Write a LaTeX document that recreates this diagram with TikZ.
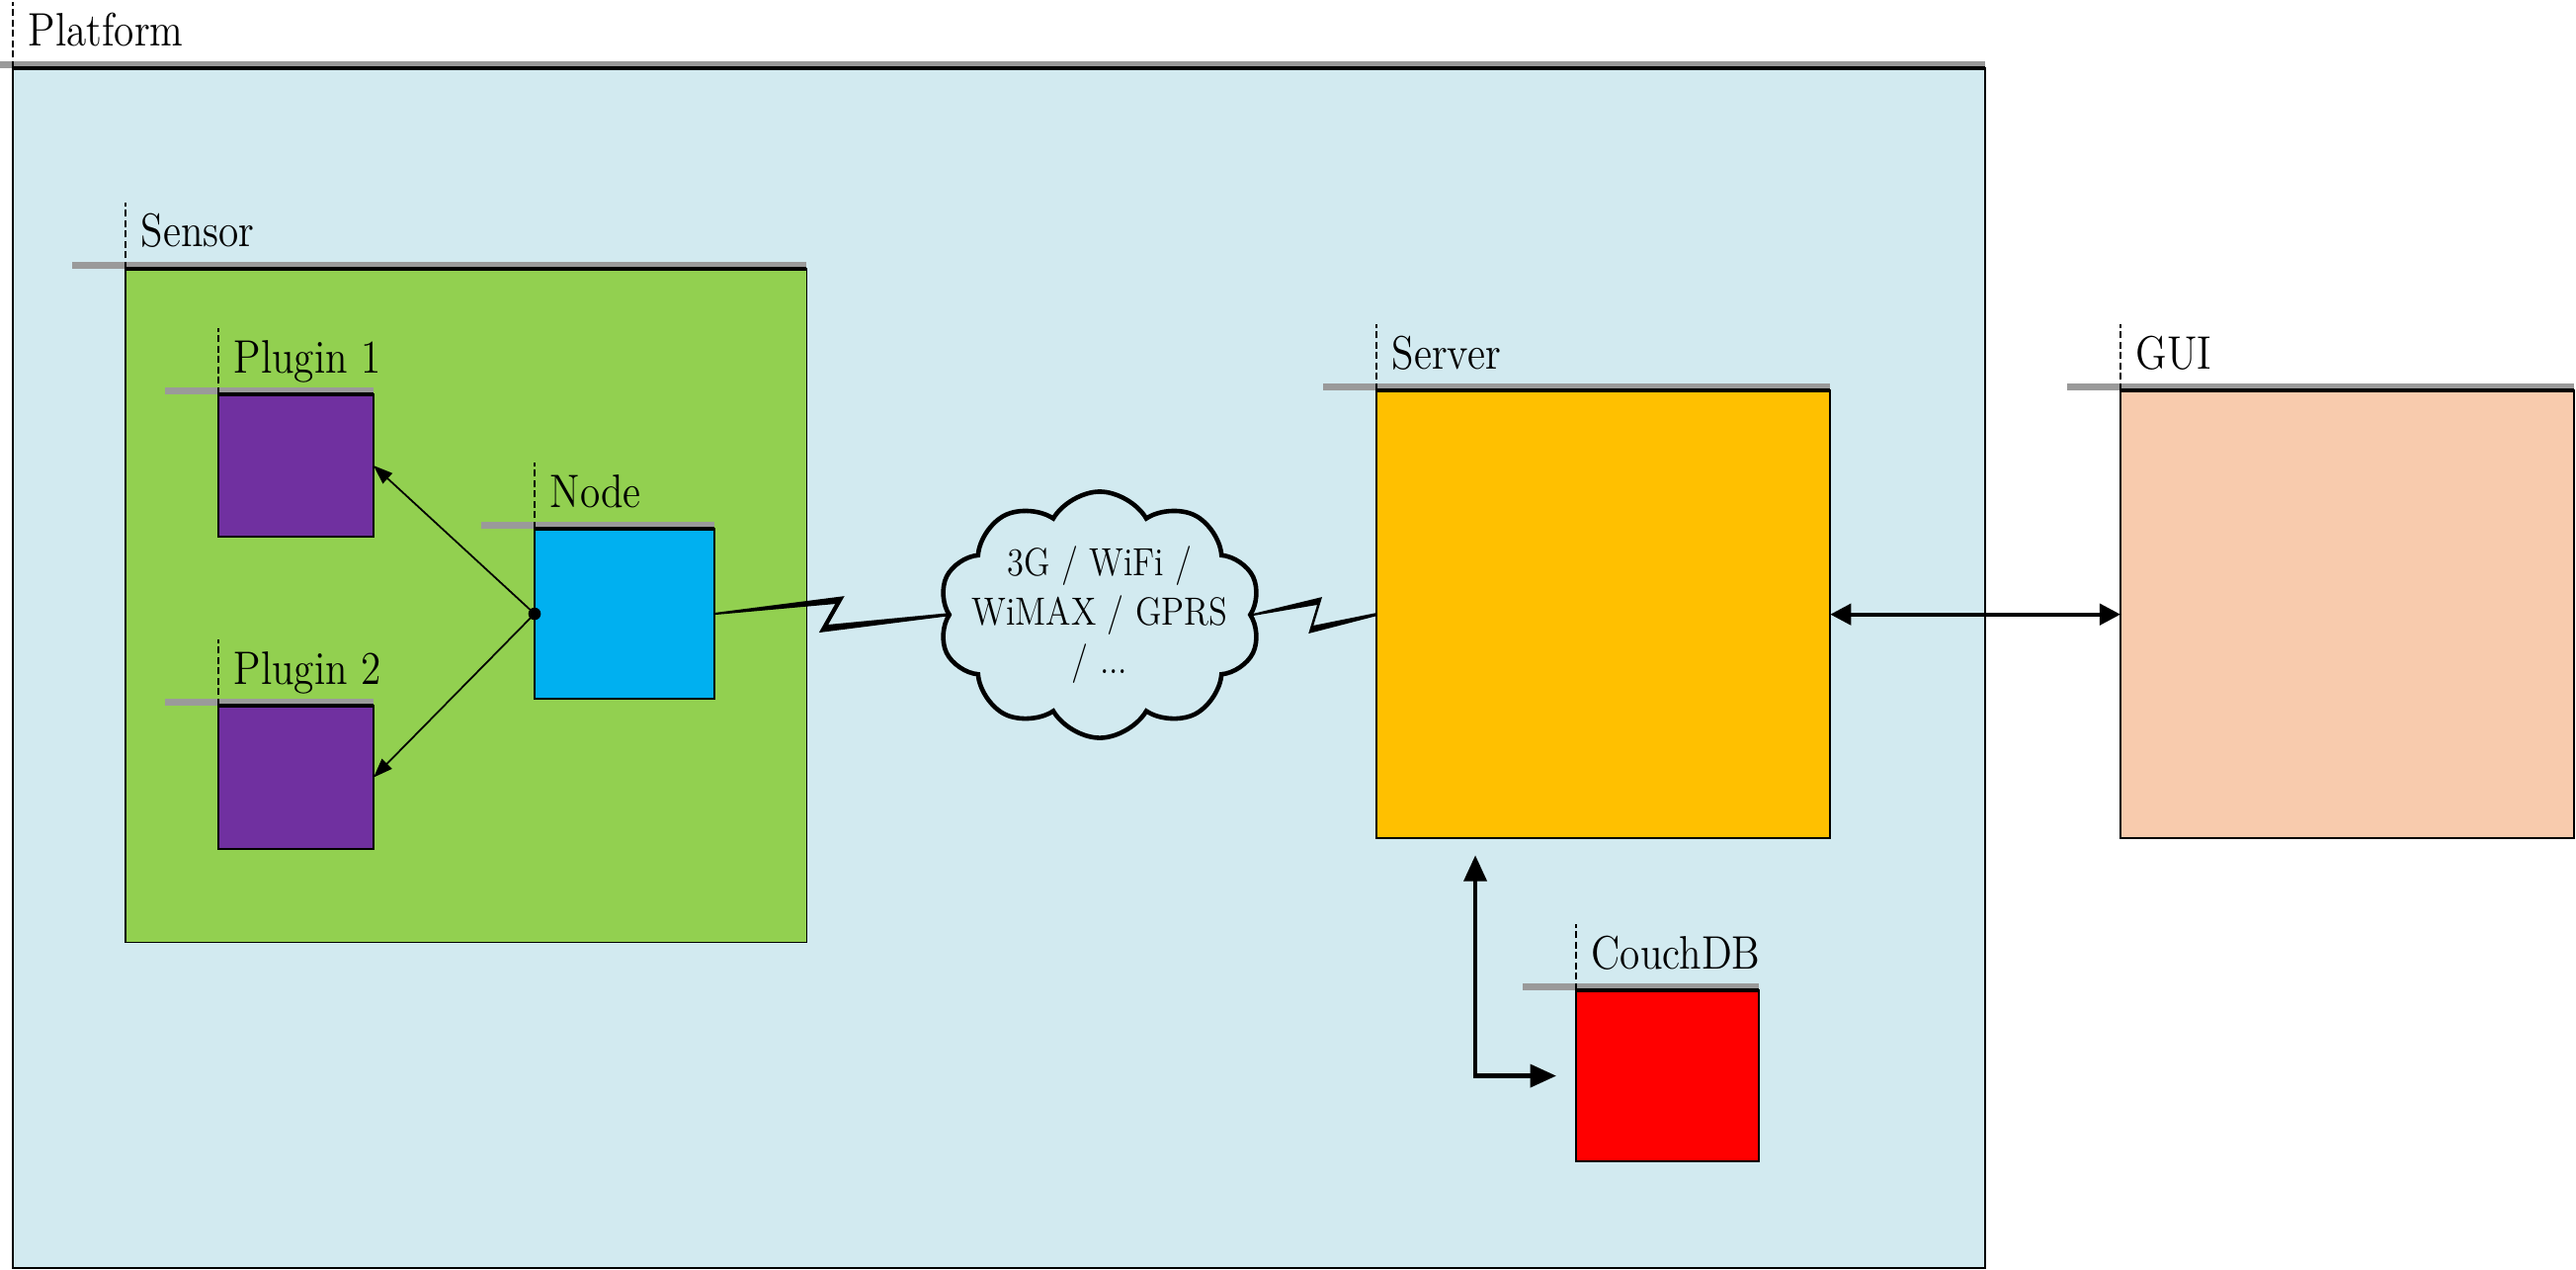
\documentclass[tikz,border=0pt]{standalone}
\usepackage{graphicx}
\usetikzlibrary{shapes.symbols,arrows.meta,calc}
\definecolor{platc}{HTML}{D2EAF0}
\definecolor{sensc}{HTML}{92D050}
\definecolor{plugc}{HTML}{7030A0}
\definecolor{nodec}{HTML}{00B0F0}
\definecolor{srvc}{HTML}{FFC000}
\definecolor{guic}{HTML}{F8CBAD}
\definecolor{dbc}{HTML}{FF0000}
\definecolor{barc}{HTML}{9A9A9A}
\newcommand\sqz[1]{\scalebox{0.87}[1]{#1}}
\newcommand\umldeco[2]{%
  \fill[barc] ([xshift=-0.54cm]#1.north west) rectangle ([yshift=0.075cm]#1.north east);
  \draw[line width=0.9pt] (#1.north west) -- (#1.north east);
  \draw[dashline] (#1.north west) -- ([yshift=0.67cm]#1.north west);
  \node[lbl] (#1-lbl) at ([xshift=0.15cm,yshift=0.22cm]#1.north west) {\sqz{#2}};
}
\newcommand\bolt[2]{%
  \fill let \p1=(#1), \p2=(#2), \n1={\x2-\x1} in
    ({\x1},{\y1+0.3pt}) -- ({\x1+0.56*\n1},{\y1+5.1pt}) -- ({\x1+0.49*\n1},{\y1-3.1pt})
    -- ({\x2},{\y2+0.45pt}) -- ({\x2},{\y2-0.45pt}) -- ({\x1+0.45*\n1},{\y1-5.4pt})
    -- ({\x1+0.52*\n1},{\y1+2.85pt}) -- ({\x1},{\y1-0.3pt}) -- cycle;
}
\tikzset{
  box/.style={draw=black, line width=0.5pt, inner sep=0pt, outer sep=0pt, anchor=north west},
  lbl/.style={inner sep=0pt, anchor=base west, font=\fontsize{13.5}{16}\selectfont},
  dashline/.style={line width=0.5pt, dash pattern=on 2pt off 1pt},
  cloudtxt/.style={inner sep=0pt, font=\fontsize{11.3}{14.2}\selectfont},
  thinarrow/.style={line width=0.5pt, -{Triangle[length=5.5pt,width=4pt]}},
  guiarrow/.style={line width=1.2pt, {Triangle[length=6pt,width=6pt]}-{Triangle[length=6pt,width=6pt]}},
  dbarrow/.style={line width=1.2pt, {Triangle[length=7.5pt,width=6.5pt]}-{Triangle[length=7.5pt,width=6.5pt]}}
}
\begin{document}
\begin{tikzpicture}[x=0.01cm,y=-0.01cm]
\useasboundingbox (0,0) rectangle (2607,1284);
% Platform
\node[box, fill=platc, minimum width=19.95cm, minimum height=12.13cm] (plat) at (13,69) {};
\umldeco{plat}{Platform}
% Sensor
\node[box, fill=sensc, minimum width=6.89cm, minimum height=6.81cm] (sens) at (127,272) {};
\umldeco{sens}{Sensor}
\node[box, fill=plugc, minimum width=1.57cm, minimum height=1.44cm] (p1) at (221,399) {};
\umldeco{p1}{Plugin 1}
\node[box, fill=plugc, minimum width=1.57cm, minimum height=1.45cm] (p2) at (221,714) {};
\umldeco{p2}{Plugin 2}
\node[box, fill=nodec, minimum width=1.82cm, minimum height=1.72cm] (nd) at (541,535) {};
\umldeco{nd}{Node}
% Server, GUI, CouchDB
\node[box, fill=srvc, minimum width=4.59cm, minimum height=4.53cm] (srv) at (1393,395) {};
\umldeco{srv}{Server}
\node[box, fill=guic, minimum width=4.59cm, minimum height=4.53cm] (gui) at (2146,395) {};
\umldeco{gui}{GUI}
\node[box, fill=dbc, minimum width=1.85cm, minimum height=1.73cm] (db) at (1595,1002) {};
\umldeco{db}{CouchDB}
% Cloud
\node[cloud, draw, line width=1.3pt, fill=platc, cloud puffs=10, cloud puff arc=120,
      aspect=1.31, minimum width=3.26cm, minimum height=2.49cm, inner sep=0pt] (cl) at (1113,622) {};
\node[cloudtxt] (cltxt) at (cl.center) {\sqz{\begin{tabular}{@{}c@{}}3G / WiFi /\\WiMAX / GPRS\\/ ...\end{tabular}}};
% connectors
\draw[thinarrow] (nd.west) -- (p1.east);
\draw[thinarrow] (nd.west) -- (p2.east);
\fill (nd.west) circle (1.8pt);
\bolt{nd.east}{cl.west}
\bolt{cl.east}{srv.west}
\draw[guiarrow] (srv.east) -- (gui.west);
\draw[dbarrow] ([xshift=1.0cm,yshift=-0.17cm]srv.south west) |- ([xshift=-0.2cm]db.west);
\end{tikzpicture}
\end{document}
